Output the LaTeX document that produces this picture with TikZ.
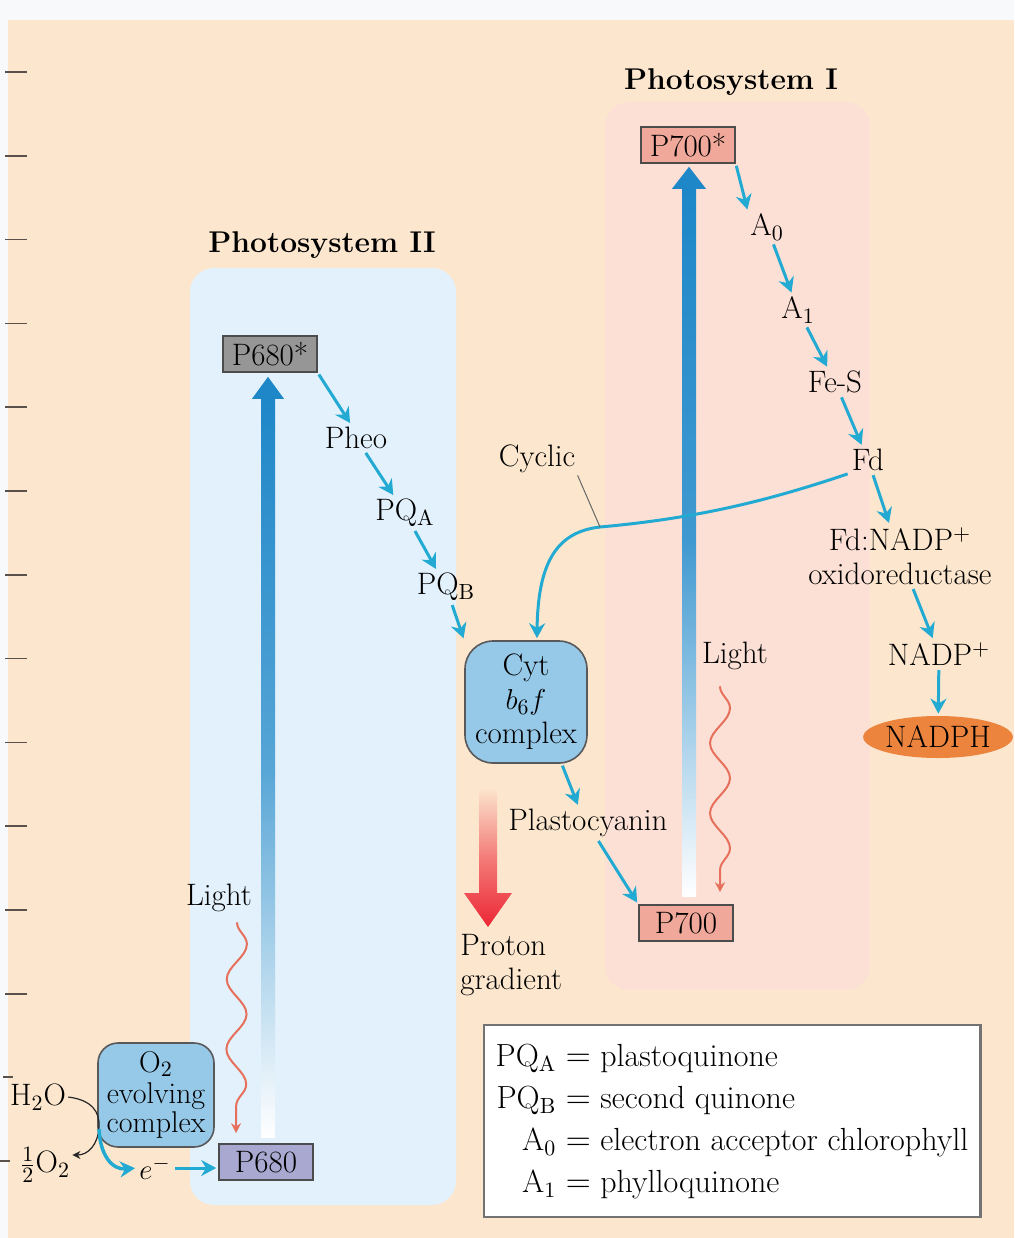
\documentclass[tikz,border=0pt]{standalone}
\usepackage{amsmath}
\usetikzlibrary{arrows.meta,positioning,calc,shapes.geometric,decorations.pathmorphing}
\definecolor{paper}{RGB}{248,249,250}
\definecolor{peach}{RGB}{252,231,206}
\definecolor{ps2panel}{RGB}{226,241,251}
\definecolor{ps1panel}{RGB}{252,224,214}
\definecolor{etblue}{RGB}{35,170,210}
\definecolor{bigblue}{RGB}{30,135,200}
\definecolor{cytblue}{RGB}{150,200,232}
\definecolor{p700pink}{RGB}{240,168,155}
\definecolor{p680violet}{RGB}{168,168,208}
\definecolor{p680sgray}{RGB}{150,150,150}
\definecolor{nadphorange}{RGB}{236,132,62}
\definecolor{lightred}{RGB}{230,112,92}
\definecolor{protonred}{RGB}{236,38,52}
\definecolor{tickgray}{RGB}{90,82,74}
\tikzset{
  pigment/.style={draw=black!70,line width=0.8pt,inner sep=2pt,minimum height=18pt,minimum width=47pt},
  carrier/.style={inner sep=1pt},
  title/.style={font=\fontsize{15}{18}\selectfont\bfseries},
  complexbox/.style={draw=black!65,line width=0.8pt,fill=cytblue,rounded corners=14pt,align=center,inner sep=1pt},
  etarrow/.style={-{Stealth[length=7.5pt,width=8pt]},line width=1.5pt,draw=etblue,shorten >=1pt,shorten <=1pt},
  lightwave/.style={-{Stealth[length=5pt,width=5pt]},draw=lightred,line width=1pt,decorate,
    decoration={snake,segment length=35pt,amplitude=5pt,post length=5pt}},
  tickmark/.style={draw=tickgray,line width=0.75pt},
  leader/.style={draw=black!60,line width=0.5pt},
  keybox/.style={draw=black!55,line width=1.2pt,fill=white,inner xsep=6pt,inner ysep=6pt,
    font=\fontsize{16}{17.5}\selectfont}
}
\begin{document}
\begin{tikzpicture}[x=0.5pt,y=-0.5pt,font=\fontsize{15.5}{17}\selectfont]
  \useasboundingbox (0,0) rectangle (1014,1238);
  \fill[paper] (0,0) rectangle (1014,1238);
  \fill[peach] (8,20) rectangle (1014,1238);
  % margin ticks
  \foreach \k in {0,...,11}
    \draw[tickmark] (5,{72+83.8*\k}) -- (27,{72+83.8*\k});
  \draw[tickmark] (3,1077) -- (13,1077);
  \draw[tickmark] (0,1161) -- (10,1161);

  % panels
  \fill[ps2panel,rounded corners=12pt] (190,268) rectangle (456,1205);
  \fill[ps1panel,rounded corners=12pt] (605,102) rectangle (870,990);

  \node[title] (ps2title) at (322,245) {Photosystem II};
  \node[title] (ps1title) at (731,82) {Photosystem I};

  % photosystem II
  \node[pigment,fill=p680sgray] (p680s) at (270,354) {P680*};
  \node[carrier] (pheo) at (356,438) {Pheo};
  \node[carrier] (pqa) at (405,513) {PQ$_\mathrm{A}$};
  \node[carrier] (pqb) at (446,587) {PQ$_\mathrm{B}$};
  \node[complexbox,minimum width=61pt,minimum height=61pt] (cyt) at (526,702) {Cyt\\$b_6f$\\complex};
  \node[carrier] (plasto) at (588,823) {Plastocyanin};
  \node[pigment,fill=p680violet] (p680) at (266,1162) {P680};
  \node[complexbox,minimum width=58pt,minimum height=52pt,rounded corners=10pt,inner sep=0pt,
        font=\fontsize{15}{14.5}\selectfont] (oec) at (156,1095) {O$_2$\\[1pt]evolving\\complex};
  \node[carrier] (h2o) at (38,1097) {H$_2$O};
  \node[carrier] (halfo2) at (45,1165) {$\frac{1}{2}$O$_2$};
  \node[carrier] (eminus) at (155,1168) {$e^-$};
  \node[carrier] (light1) at (219,898) {Light};

  % photosystem I
  \node[pigment,fill=p700pink] (p700s) at (688,145) {P700*};
  \node[pigment,fill=p700pink] (p700) at (686,923) {P700};
  \node[carrier] (a0) at (767,227) {A$_0$};
  \node[carrier] (a1) at (798,310) {A$_1$};
  \node[carrier] (fes) at (835,382) {Fe-S};
  \node[carrier] (fd) at (868,460) {Fd};
  \node[carrier,align=center] (fdnr) at (900,556) {Fd:NADP$^+$\\oxidoreductase};
  \node[carrier] (nadp) at (939,654) {NADP$^+$};
  \node[ellipse,fill=nadphorange,inner sep=0pt,minimum width=71pt,minimum height=21pt] (nadph) at (938,737) {NADPH};
  \node[carrier] (light2) at (735,656) {Light};
  \node[carrier] (cyclic) at (537,459) {Cyclic};

  % excitation arrows
  \coordinate (up2tip) at ($(p680s.south)+(-2,4)$);
  \shade[top color=bigblue,bottom color=white,middle color=bigblue!75]
    ($(up2tip)+(-7,20)$) rectangle ($(up2tip |- p680.north)+(7,-6)$);
  \fill[bigblue] ($(up2tip)+(-16,22)$) -- (up2tip) -- ($(up2tip)+(16,22)$) -- cycle;
  \coordinate (up1tip) at ($(p700s.south)+(1,3)$);
  \shade[top color=bigblue,bottom color=white,middle color=bigblue!85]
    ($(up1tip)+(-7,20)$) rectangle ($(up1tip |- p700.north)+(7,-8)$);
  \fill[bigblue] ($(up1tip)+(-17,22)$) -- (up1tip) -- ($(up1tip)+(17,22)$) -- cycle;

  % proton gradient
  \coordinate (ptip) at (488,927);
  \shade[top color=peach,bottom color=protonred,middle color=protonred!55!peach]
    ($(ptip)+(-9,-140)$) -- ($(ptip)+(9,-140)$) -- ($(ptip)+(9,-34)$) -- ($(ptip)+(24,-34)$)
    -- (ptip) -- ($(ptip)+(-24,-34)$) -- ($(ptip)+(-9,-34)$) -- cycle;
  \node[anchor=north west,align=left,inner sep=1pt] (proton) at (458,932) {Proton\\gradient};

  % light
  \draw[lightwave] ($(light1.south)+(18,8)$) -- ($(p680.north)+(-30,-10)$);
  \draw[lightwave] ($(light2.south)+(-15,14)$) -- ($(p700.north)+(34,-12)$);

  % electron flow
  \draw[etarrow] (p680s.south east) -- (pheo.110);
  \draw[etarrow] (pheo) -- (pqa);
  \draw[etarrow] (pqa) -- (pqb);
  \draw[etarrow] (pqb) -- (cyt.north west);
  \draw[etarrow] (cyt.300) -- (plasto.120);
  \draw[etarrow] (plasto.300) -- (p700.north west);
  \draw[etarrow] (p700s.south east) -- (a0.north west);
  \draw[etarrow] (a0) -- (a1);
  \draw[etarrow] (a1) -- (fes);
  \draw[etarrow] (fes) -- (fd);
  \draw[etarrow] (fd) -- (fdnr);
  \draw[etarrow] (fdnr) -- (nadp);
  \draw[etarrow] (nadp) -- (nadph);
  \draw[etarrow] (fd.south west) .. controls (770,500) and (700,518) .. (600,527) coordinate (cyctouch)
    .. controls (555,532) and (538,565) .. (cyt.80);
  \draw[leader] (cyclic.south east) -- (cyctouch);

  % water splitting
  \draw[-{Stealth[length=4pt,width=4pt]},line width=0.6pt,black!85]
    (h2o.east) .. controls (92,1100) and (100,1112) .. (99,1127) coordinate (oecsplit)
    .. controls (98,1145) and (88,1155) .. (halfo2.20);
  \draw[etarrow,line width=1.75pt] (oecsplit) .. controls (100,1155) and (112,1170) .. (eminus.west);
  \draw[etarrow] (eminus.east) -- (eminus.east -| p680.west);

  % key
  \node[keybox] (key) at (732,1121) {\renewcommand{\arraystretch}{1.2}%
    \begin{tabular}{@{}r@{${}={}$}l@{}}
      PQ$_\mathrm{A}$ & plastoquinone\\
      PQ$_\mathrm{B}$ & second quinone\\
      A$_0$ & electron acceptor chlorophyll\\
      A$_1$ & phylloquinone
    \end{tabular}};
\end{tikzpicture}
\end{document}
